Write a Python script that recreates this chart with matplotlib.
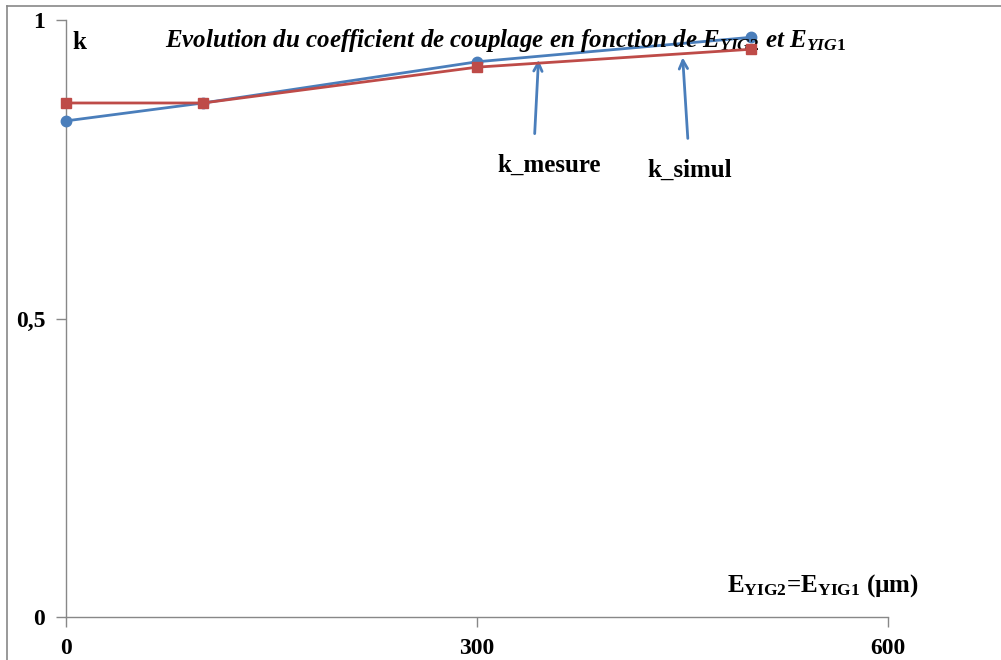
import matplotlib
matplotlib.use('Agg')
import matplotlib.pyplot as plt
from matplotlib.lines import Line2D

plt.rcParams['font.family'] = ['Liberation Serif', 'DejaVu Serif']
plt.rcParams['mathtext.fontset'] = 'custom'
plt.rcParams['mathtext.rm'] = 'Liberation Serif:bold'
plt.rcParams['mathtext.it'] = 'Liberation Serif:italic:bold'
plt.rcParams['mathtext.bf'] = 'Liberation Serif:bold'

# données
epaisseur = [0, 100, 300, 500]
k_mesure = [0.831, 0.861, 0.930, 0.971]
k_simul = [0.861, 0.861, 0.921, 0.951]
x_ticks = [0, 300, 600]
y_ticks = [0, 0.5, 1]
y_labels = ['0', '0,5', '1']

fig = plt.figure(figsize=(10.01, 6.6), dpi=100)
ax = fig.add_axes([66 / 1001, 1 - 617 / 660, (888 - 66) / 1001, (617 - 20) / 660])

ax.plot(epaisseur, k_mesure, color='#4a7ebb', lw=2, marker='o', ms=7.5, zorder=3, clip_on=False)
ax.plot(epaisseur, k_simul, color='#be4b48', lw=2, marker='s', ms=7.5, zorder=4, clip_on=False)

ax.set_xlim(0, 600)
ax.set_ylim(0, 1)
ax.set_xticks(x_ticks)
ax.set_xticklabels([str(v) for v in x_ticks], fontsize=17, fontweight='bold')
ax.set_yticks(y_ticks)
ax.set_yticklabels(y_labels, fontsize=17, fontweight='bold')
ax.tick_params(axis='both', color='#888888', length=7, width=1, pad=8)
ax.spines['top'].set_visible(False)
ax.spines['right'].set_visible(False)
for s in ('left', 'bottom'):
    ax.spines[s].set_color('#888888')
    ax.spines[s].set_linewidth(1)

# textes
ax.text(0.008, 0.962, 'k', transform=ax.transAxes, fontsize=18, fontweight='bold', va='center')
ax.text(0.12, 0.965,
        r'Evolution du coefficient de couplage en fonction de $\mathit{E_{YIG2}}$ et $\mathit{E_{YIG1}}$',
        transform=ax.transAxes, fontsize=18, fontweight='bold', style='italic', va='center')
ax.text(0.804, 0.053, r'$\mathrm{E_{YIG2}}$=$\mathrm{E_{YIG1}}$ (µm)', transform=ax.transAxes,
        fontsize=18, fontweight='bold', va='center')

# flèches
ax.annotate('', xy=(345, 0.938), xytext=(342, 0.805),
            arrowprops=dict(arrowstyle='->', color='#4a7ebb', lw=2, mutation_scale=15))
ax.annotate('', xy=(450, 0.942), xytext=(454, 0.797),
            arrowprops=dict(arrowstyle='->', color='#4a7ebb', lw=2, mutation_scale=15))
ax.text(352.5, 0.757, 'k_mesure', fontsize=18, fontweight='bold', ha='center', va='center')
ax.text(455.5, 0.749, 'k_simul', fontsize=18, fontweight='bold', ha='center', va='center')

# cadre
fig.add_artist(Line2D([7 / 1001, 1], [1 - 6 / 660] * 2, color='#888888', lw=1.2))
fig.add_artist(Line2D([7 / 1001] * 2, [0, 1 - 6 / 660], color='#888888', lw=1.2))

fig.savefig('out.png', dpi=100)
